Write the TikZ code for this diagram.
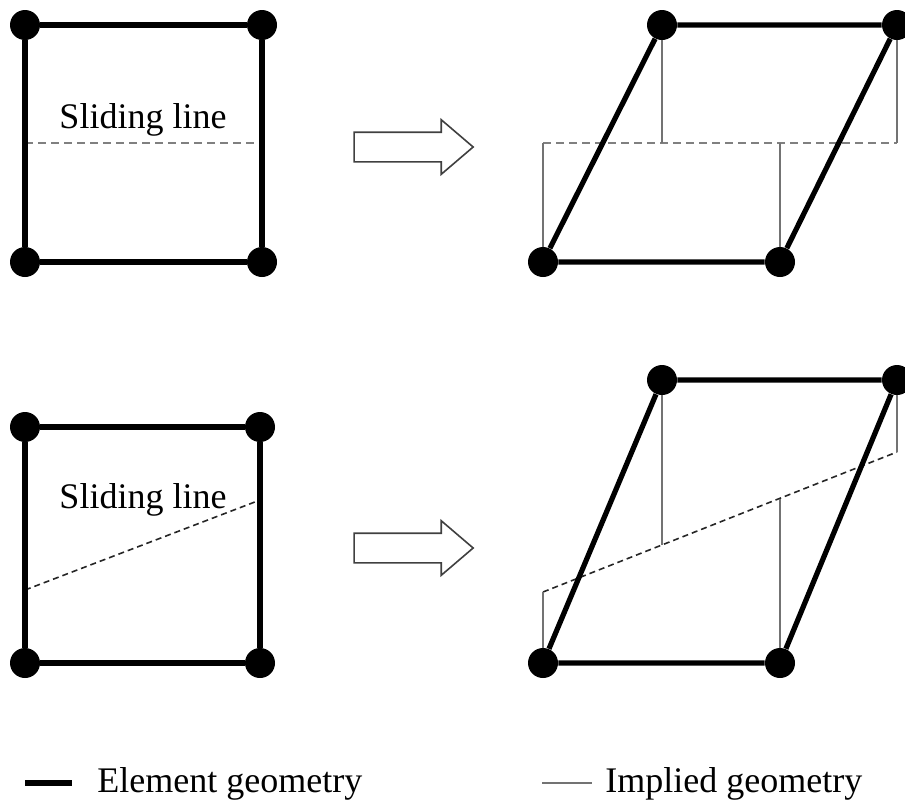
\documentclass[tikz,border=0pt]{standalone}
\usepackage{fontspec}
\setmainfont{Liberation Serif}
\usepackage{tikz}
\usetikzlibrary{shapes.arrows}

\begin{document}
\begin{tikzpicture}[
  x=0.5pt, y=-0.5pt,
  font=\fontsize{18}{20}\selectfont,
  nd/.style={circle, fill=black, inner sep=0pt, minimum size=15pt},
  elem/.style={line width=2.6pt, black},
  impl/.style={line width=1pt, black!55},
  slideA/.style={dashed, dash pattern=on 4pt off 2.5pt, line width=1.1pt, black!50},
  slideB/.style={dash pattern=on 3pt off 2pt, line width=0.8pt, black!85},
  blockarrow/.style={single arrow, draw=black!75, line width=0.8pt, fill=white,
                     minimum height=59.5pt, inner xsep=0pt, inner ysep=7pt,
                     single arrow head extend=6.25pt, single arrow tip angle=81},
  lbl/.style={anchor=base, inner sep=0pt},
]
\useasboundingbox (0,0) rectangle (905,805);

% --- top row: square before sliding ----------------------------------------
\node[nd] (a1) at (25,25) {};
\node[nd] (b1) at (262,25) {};
\node[nd] (c1) at (25,262) {};
\node[nd] (d1) at (262,262) {};
\coordinate (sa1) at (25,143);
\coordinate (sb1) at (262,143);
\draw[slideA] (sa1) -- (sb1);
\draw[elem] (a1) -- (b1) -- (d1) -- (c1) -- (a1);
\node[lbl] (t1) at (143,128) {Sliding line};

\node[blockarrow] (arr1) at (405,147) {};

% --- top row: sheared element ------------------------------------------------
\node[nd] (a2) at (662,25) {};
\node[nd] (b2) at (897,25) {};
\node[nd] (c2) at (543,262) {};
\node[nd] (d2) at (780,262) {};
\coordinate (sa2) at (543,143);
\coordinate (sb2) at (897,143);
\draw[slideA] (sa2) -- (sb2);
\draw[impl] (c2) -- (sa2);
\draw[impl] (a2) -- (a2|-sa2);
\draw[impl] (d2) -- (d2|-sa2);
\draw[impl] (b2) -- (sb2);
\draw[elem] (a2) -- (b2) -- (d2) -- (c2) -- (a2);

% --- bottom row: square with inclined sliding line ---------------------------
\node[nd] (a3) at (25,427) {};
\node[nd] (b3) at (260,427) {};
\node[nd] (c3) at (25,663) {};
\node[nd] (d3) at (260,663) {};
\coordinate (sa3) at (25,590);
\coordinate (sb3) at (260,500);
\draw[slideB] (sa3) -- (sb3);
\draw[elem] (a3) -- (b3) -- (d3) -- (c3) -- (a3);
\node[lbl] (t3) at (143,508) {Sliding line};

\node[blockarrow] (arr2) at (405,548) {};

% --- bottom row: sheared element ---------------------------------------------
\node[nd] (a4) at (662,380) {};
\node[nd] (b4) at (897,380) {};
\node[nd] (c4) at (543,663) {};
\node[nd] (d4) at (780,663) {};
\coordinate (sa4) at (543,592);
\coordinate (sb4) at (897,452);
\coordinate (sm4) at (662,545);
\coordinate (sn4) at (780,499);
\draw[slideB] (sa4) -- (sb4);
\draw[impl] (c4) -- (sa4);
\draw[impl] (a4) -- (sm4);
\draw[impl] (d4) -- (sn4);
\draw[impl] (b4) -- (sb4);
\draw[elem] (a4) -- (b4) -- (d4) -- (c4) -- (a4);

% --- legend ------------------------------------------------------------------
\coordinate (le1) at (25,783);
\coordinate (le2) at (72,783);
\draw[elem] (le1) -- (le2);
\node[lbl, anchor=base west] (lt1) at (97,792) {Element geometry};
\coordinate (li1) at (542,783);
\coordinate (li2) at (592,783);
\draw[impl] (li1) -- (li2);
\node[lbl, anchor=base west] (lt2) at (605,792) {Implied geometry};
\end{tikzpicture}
\end{document}
